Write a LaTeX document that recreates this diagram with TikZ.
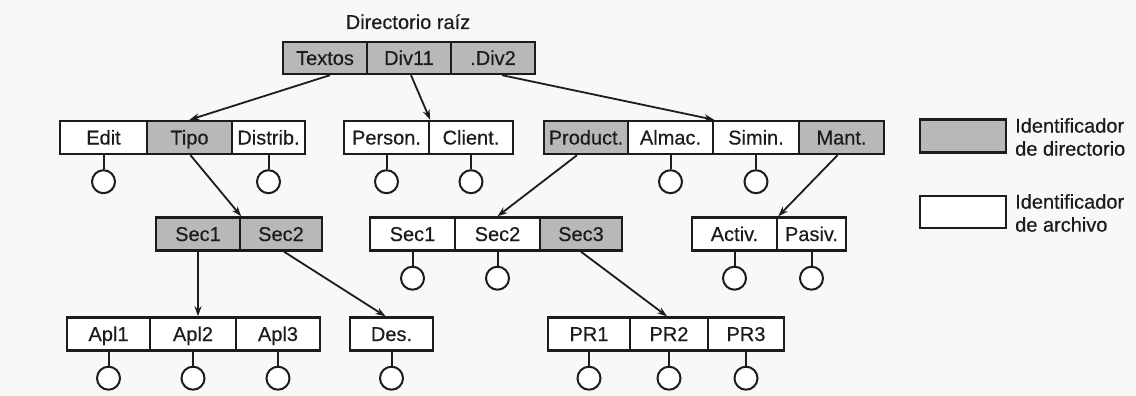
\documentclass[tikz,border=0pt]{standalone}
\usepackage{fontspec}
\setmainfont{Liberation Sans}[FakeBold=0.4]
\usetikzlibrary{arrows.meta}
\definecolor{dirgray}{RGB}{184,184,184}
\definecolor{ink}{RGB}{28,28,28}
\definecolor{paper}{RGB}{248,248,248}
\begin{document}
\begin{tikzpicture}[x=1pt,y=-1pt,
  font=\fontsize{20}{23}\selectfont,
  cellbox/.style={draw=ink,line width=2.4pt,inner sep=0pt,minimum height=33pt,text=ink,text height=14pt,text depth=0pt},
  dcell/.style={cellbox,fill=dirgray},
  fcell/.style={cellbox,fill=white},
  leaf/.style={draw=ink,line width=2pt,circle,minimum size=23pt,inner sep=0pt,fill=white},
  stem/.style={draw=ink,line width=2pt},
  link/.style={draw=ink,line width=1.8pt,-{Stealth[length=10pt,width=7pt]}},
  legtext/.style={anchor=west,align=left,inner sep=0pt,text=ink,font=\fontsize{20}{23}\selectfont}
]
\useasboundingbox[fill=paper] (0,0) rectangle (1136,396);

% title
\node[text=ink,text height=14pt,text depth=0pt,inner sep=0pt] (title) at (408,22) {Directorio raíz};

% root
\node[dcell,minimum width=84pt,minimum height=32pt] (textos) at (325,58) {Textos};
\node[dcell,minimum width=84pt,minimum height=32pt] (div11) at (409,58) {Div11};
\node[dcell,minimum width=84pt,minimum height=32pt] (div2) at (493,58) {.Div2};

% row 1
\node[fcell,minimum width=87pt] (edit) at (103.5,137.5) {Edit};
\node[dcell,minimum width=85pt] (tipo) at (189.5,137.5) {Tipo};
\node[fcell,minimum width=73pt] (distrib) at (268.5,137.5) {Distrib.};
\node[fcell,minimum width=85pt] (person) at (386.5,137.5) {Person.};
\node[fcell,minimum width=84pt] (client) at (471,137.5) {Client.};
\node[dcell,minimum width=84pt] (product) at (586,137.5) {Product.};
\node[fcell,minimum width=85pt] (almac) at (670.5,137.5) {Almac.};
\node[fcell,minimum width=86pt] (simin) at (756,137.5) {Simin.};
\node[dcell,minimum width=85pt] (mant) at (841.5,137.5) {Mant.};

% row 2
\node[dcell,minimum width=84pt] (sec1a) at (198,234) {Sec1};
\node[dcell,minimum width=82pt] (sec2a) at (281,234) {Sec2};
\node[fcell,minimum width=85pt] (sec1b) at (412.5,234) {Sec1};
\node[fcell,minimum width=85pt] (sec2b) at (497.5,234) {Sec2};
\node[dcell,minimum width=82pt] (sec3b) at (581,234) {Sec3};
\node[fcell,minimum width=85pt] (activ) at (734.5,234) {Activ.};
\node[fcell,minimum width=69pt] (pasiv) at (811.5,234) {Pasiv.};

% row 3
\node[fcell,minimum width=83pt] (apl1) at (108.5,334) {Apl1};
\node[fcell,minimum width=86pt] (apl2) at (193,334) {Apl2};
\node[fcell,minimum width=84pt] (apl3) at (278,334) {Apl3};
\node[fcell,minimum width=83pt] (des) at (391.5,334) {Des.};
\node[fcell,minimum width=82pt] (pr1) at (589,334) {PR1};
\node[fcell,minimum width=78pt] (pr2) at (669,334) {PR2};
\node[fcell,minimum width=76pt] (pr3) at (746,334) {PR3};

% leaves (files)
\foreach \c in {edit,distrib,person,client,almac,simin,sec1b,sec2b,activ,pasiv,apl1,apl2,apl3,des,pr1,pr2,pr3}{
  \node[leaf,anchor=north] (\c-o) at ([yshift=-14pt]\c.south) {};
  \draw[stem] (\c.south) -- (\c-o.north);
}

% links
\draw[link] ([xshift=5pt]textos.south) -- (tipo.north);
\draw[link] ([xshift=2pt]div11.south) -- (person.north east);
\draw[link] ([xshift=9pt]div2.south) -- (almac.north east);
\draw[link] ([xshift=1pt]tipo.south) -- (sec1a.north east);
\draw[link] ([xshift=-9pt]product.south) -- (sec2b.north);
\draw[link] ([xshift=-4pt]mant.south) -- (activ.north east);
\draw[link] (sec1a.south) -- (sec1a.south |- apl2.north);
\draw[link] ([xshift=3pt]sec2a.south) -- ([xshift=-6pt]des.north);
\draw[link] (sec3b.south) -- ([xshift=-2pt]pr2.north);

% legend
\node[dcell,minimum width=86pt] (legdir) at (963,136) {};
\node[fcell,minimum width=86pt,minimum height=32pt] (legfile) at (963,212) {};
\node[legtext] (legdirtxt) at (1015,137) {Identificador\\de directorio};
\node[legtext] (legfiletxt) at (1015,213) {Identificador\\de archivo};
\end{tikzpicture}
\end{document}
